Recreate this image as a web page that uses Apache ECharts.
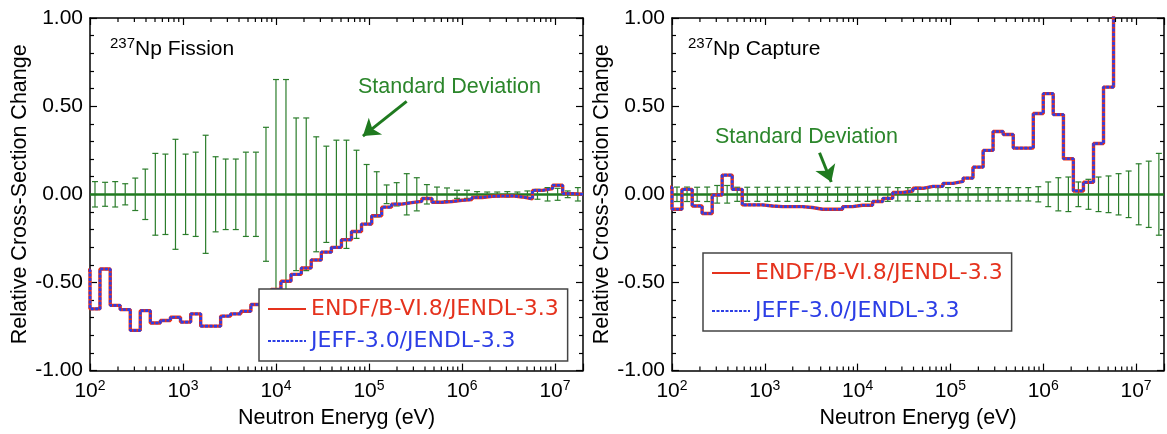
<!DOCTYPE html>
<html><head><meta charset="utf-8">
<script src="https://cdn.jsdelivr.net/npm/echarts@6/dist/echarts.min.js"></script>
<style>html,body{margin:0;padding:0;background:#fff}#c{width:1167px;height:434px}</style>
</head><body><div id="c"></div>
<script>
// ---- data ----
// group boundaries in eV (first edge is a bin below the plotted range)
const binEdges = [78, 100, 128, 165, 211, 271, 347, 445, 571, 733, 940, 1210, 1550, 1980, 2540, 3260, 4190, 5370, 6890, 8840,
  11300, 14500, 18700, 23900, 30700, 39400, 50500, 64800, 83100, 107000, 137000, 175000, 225000, 288000, 370000, 475000,
  609000, 781000, 1000000, 1280000, 1650000, 2110000, 2710000, 3480000, 4460000, 5720000, 7340000, 9420000, 12100000,
  15500000, 20000000];

const fissionEndf = [-0.43, -0.65, -0.424, -0.63, -0.654, -0.772, -0.66, -0.73, -0.716, -0.697, -0.725, -0.678, -0.748, -0.748,
  -0.691, -0.678, -0.663, -0.625, -0.585, -0.54, -0.493, -0.454, -0.418, -0.373, -0.328, -0.301, -0.258, -0.211, -0.169,
  -0.122, -0.073, -0.056, -0.047, -0.04, -0.024, -0.045, -0.041, -0.034, -0.03, -0.018, -0.011, -0.01, -0.009, -0.015,
  -0.026, 0.022, 0.033, 0.051, 0.004, 0.0];
const fissionJeff = [-0.43, -0.65, -0.424, -0.63, -0.654, -0.772, -0.66, -0.73, -0.716, -0.697, -0.725, -0.678, -0.748, -0.748,
  -0.691, -0.678, -0.663, -0.625, -0.585, -0.54, -0.493, -0.454, -0.418, -0.373, -0.328, -0.301, -0.258, -0.211, -0.169,
  -0.122, -0.073, -0.056, -0.047, -0.04, -0.024, -0.045, -0.041, -0.034, -0.03, -0.018, -0.011, -0.01, -0.009, -0.015,
  -0.026, 0.022, 0.033, 0.051, 0.004, 0.0];
const fissionSd = [null, 0.072, 0.068, 0.072, 0.06, 0.092, 0.143, 0.232, 0.228, 0.312, 0.228, 0.239, 0.335, 0.213, 0.2, 0.2,
  0.239, 0.239, 0.38, 0.651, 0.651, 0.433, 0.433, 0.326, 0.273, 0.307, 0.307, 0.25, 0.169, 0.128, 0.053, 0.066, 0.117,
  0.094, 0.055, 0.041, 0.036, 0.023, 0.023, 0.015, 0.013, 0.013, 0.015, 0.013, 0.019, 0.028, 0.038, 0.034, 0.019, 0.038];

const captureEndf = [0.04, -0.085, 0.028, -0.066, -0.109, -0.004, 0.109, 0.028, -0.06, -0.06, -0.066, -0.07, -0.07, -0.07,
  -0.075, -0.085, -0.085, -0.085, -0.07, -0.062, -0.062, -0.041, -0.023, 0.01, 0.019, 0.034, 0.045, 0.045, 0.062, 0.073,
  0.092, 0.154, 0.249, 0.356, 0.339, 0.262, 0.262, 0.458, 0.571, 0.452, 0.202, 0.019, 0.068, 0.288, 0.608, 1.3, 1.3, 1.3, 1.3, 1.3];
const captureJeff = [0.04, -0.085, 0.028, -0.066, -0.109, -0.004, 0.109, 0.028, -0.06, -0.06, -0.066, -0.07, -0.07, -0.07,
  -0.075, -0.085, -0.085, -0.085, -0.07, -0.062, -0.062, -0.041, -0.023, 0.01, 0.019, 0.034, 0.045, 0.045, 0.062, 0.073,
  0.092, 0.154, 0.249, 0.356, 0.339, 0.262, 0.262, 0.458, 0.571, 0.452, 0.202, 0.019, 0.068, 0.288, 0.608, 1.3, 1.3, 1.3, 1.3, 1.3];
const captureSd = [null, 0.041, 0.041, 0.04, 0.041, 0.05, 0.05, 0.04, 0.04, 0.04, 0.04, 0.04, 0.04, 0.04, 0.04, 0.04, 0.04,
  0.04, 0.04, 0.04, 0.04, 0.04, 0.04, 0.038, 0.038, 0.04, 0.038, 0.038, 0.038, 0.038, 0.038, 0.038, 0.038, 0.038, 0.038,
  0.038, 0.038, 0.043, 0.07, 0.094, 0.098, 0.07, 0.085, 0.098, 0.104, 0.117, 0.132, 0.173, 0.188, 0.232];

const seriesNames = ['ENDF/B-VI.8/JENDL-3.3', 'JEFF-3.0/JENDL-3.3'];
const decades = [100, 1000, 10000, 100000, 1000000, 10000000];
const minorSteps = [2, 3, 4, 5, 6, 7, 8, 9];
const yTickValues = [-1, -0.5, 0, 0.5, 1];

// annotation arrows (data coordinates: [energy, change])
const arrowFission = [[2.54e5, 0.527], [8.6e4, 0.33]];
const arrowCapture = [[3886, 0.236], [5200, 0.07]];

// ---- styling ----
const RED = '#e5321d', BLUE = '#2c3ee6', GREEN = '#2b7d2b', GREEN0 = '#1f7a1f', GREENT = '#2b862b';
const FONT = 'Liberation Sans';

function stepData(vals) {
  const d = vals.map((v, i) => [binEdges[i], v]);
  d.push([binEdges[vals.length], vals[vals.length - 1]]);
  return d;
}
function errData(sd) {
  const d = [];
  sd.forEach((s, i) => { if (s != null) d.push([Math.sqrt(binEdges[i] * binEdges[i + 1]), s]); });
  return d;
}
const minorTicks = [];
decades.forEach(d => minorSteps.forEach(m => { if (d * m < 2e7) minorTicks.push([d * m, 0]); }));

function fmtPow(v) {
  const e = Math.round(Math.log10(v));
  if (Math.abs(Math.pow(10, e) - v) > 1e-6 * v) return '';
  return '{b|10}{s|' + e + '}';
}
const axisLineStyle = { color: '#000', width: 1.5 };
const tickStyle = { color: '#000', width: 1.2 };

function xAxisDef(g, pos) {
  return {
    type: 'log', logBase: 10, gridIndex: g, min: 100, max: 2e7, position: pos,
    axisLine: { show: true, onZero: false, lineStyle: axisLineStyle },
    axisTick: { show: true, inside: true, length: 7, lineStyle: tickStyle },
    splitLine: { show: false },
    axisLabel: pos === 'bottom' ? {
      show: true, margin: 9, formatter: fmtPow,
      rich: {
        b: { fontFamily: FONT, fontSize: 21, lineHeight: 24, color: '#000' },
        s: { fontFamily: FONT, fontSize: 14, lineHeight: 14, verticalAlign: 'top', color: '#000' }
      }
    } : { show: false },
    name: pos === 'bottom' ? 'Neutron Eneryg (eV)' : '',
    nameLocation: 'middle', nameGap: 33,
    nameTextStyle: { fontFamily: FONT, fontSize: 21.5, color: '#000' }
  };
}
function yAxisDef(g, pos) {
  return {
    type: 'value', gridIndex: g, min: -1, max: 1, interval: 0.5, position: pos,
    axisLine: { show: true, onZero: false, lineStyle: axisLineStyle },
    axisTick: { show: true, inside: true, length: 7, lineStyle: tickStyle },
    minorTick: { show: true, splitNumber: 5, length: 4, lineStyle: tickStyle },
    splitLine: { show: false }, minorSplitLine: { show: false },
    axisLabel: pos === 'left' ? {
      show: true, margin: 7, fontFamily: FONT, fontSize: 21, color: '#000',
      formatter: v => (yTickValues.indexOf(v) >= 0 ? v.toFixed(2) : '')
    } : { show: false },
    name: pos === 'left' ? 'Relative Cross-Section Change' : '',
    nameLocation: 'middle', nameGap: 57,
    nameTextStyle: { fontFamily: FONT, fontSize: 21.5, color: '#000' }
  };
}

function renderErr(params, api) {
  const x = api.value(0), s = api.value(1);
  const t = api.coord([x, s]), b = api.coord([x, -s]);
  const cw = 3;
  const st = { stroke: GREEN, lineWidth: 1.2 };
  return { type: 'group', children: [
    { type: 'line', shape: { x1: t[0], y1: t[1], x2: b[0], y2: b[1] }, style: st },
    { type: 'line', shape: { x1: t[0] - cw, y1: t[1], x2: t[0] + cw, y2: t[1] }, style: st },
    { type: 'line', shape: { x1: b[0] - cw, y1: b[1], x2: b[0] + cw, y2: b[1] }, style: st }
  ]};
}
function renderMinor(params, api) {
  const v = api.value(0);
  const bot = api.coord([v, -1]), top = api.coord([v, 1]);
  const st = { stroke: '#000', lineWidth: 1.2 };
  return { type: 'group', children: [
    { type: 'line', shape: { x1: bot[0], y1: bot[1], x2: bot[0], y2: bot[1] - 4 }, style: st },
    { type: 'line', shape: { x1: top[0], y1: top[1], x2: top[0], y2: top[1] + 4 }, style: st }
  ]};
}

function panelSeries(g, endf, jeff, sd, arrow) {
  const xi = g * 2, yi = g * 2;
  return [
    {
      type: 'custom', xAxisIndex: xi, yAxisIndex: yi, data: errData(sd), renderItem: renderErr, z: 2, silent: true,
      markLine: {
        silent: true, symbol: ['none', 'none'], label: { show: false }, animation: false, z: 2,
        lineStyle: { color: GREEN0, width: 2.5, type: 'solid' },
        data: [{ yAxis: 0 }]
      }
    },
    {
      type: 'custom', xAxisIndex: xi, yAxisIndex: yi, data: minorTicks, renderItem: renderMinor, z: 5, silent: true, clip: false,
      markLine: {
        silent: true, symbol: ['none', 'arrow'], symbolSize: 16, label: { show: false }, animation: false,
        lineStyle: { color: GREEN0, width: 3, type: 'solid' },
        itemStyle: { color: GREEN0 },
        data: [[{ coord: arrow[0], symbol: 'none' }, { coord: arrow[1], symbol: 'arrow', symbolSize: 16 }]]
      }
    },
    {
      name: seriesNames[0], type: 'line', xAxisIndex: xi, yAxisIndex: yi, step: 'end', data: stepData(endf),
      symbol: 'none', showSymbol: false, lineStyle: { color: RED, width: 3.4 }, itemStyle: { color: RED }, z: 3, silent: true
    },
    {
      name: seriesNames[1], type: 'line', xAxisIndex: xi, yAxisIndex: yi, step: 'end', data: stepData(jeff),
      symbol: 'none', showSymbol: false, lineStyle: { color: BLUE, width: 2.6, type: [3, 1.5] }, itemStyle: { color: BLUE }, z: 4, silent: true
    }
  ];
}

function legendDef(left, top, gap) {
  return {
    left: left, top: top, orient: 'vertical', itemGap: gap, itemWidth: 38, itemHeight: 14,
    padding: [9, 9, 9, 8], backgroundColor: '#fff', borderColor: '#444', borderWidth: 1.5,
    selectedMode: false, z: 10,
    itemStyle: { opacity: 0 },
    lineStyle: { width: 2 },
    textStyle: { fontFamily: 'DejaVu Sans', fontSize: 22, lineHeight: 22 },
    data: [
      { name: seriesNames[0], textStyle: { color: RED } },
      { name: seriesNames[1], textStyle: { color: BLUE } }
    ]
  };
}

const titleRich = {
  s: { fontFamily: FONT, fontSize: 15, lineHeight: 15, verticalAlign: 'top', fill: '#000' },
  b: { fontFamily: FONT, fontSize: 21, lineHeight: 26, fill: '#000' }
};

const option = {
  animation: false,
  backgroundColor: '#fff',
  textStyle: { fontFamily: FONT },
  grid: [
    { left: 90, top: 18, width: 493, height: 354 },
    { left: 672, top: 18, width: 494, height: 354 }
  ],
  xAxis: [xAxisDef(0, 'bottom'), xAxisDef(0, 'top'), xAxisDef(1, 'bottom'), xAxisDef(1, 'top')],
  yAxis: [yAxisDef(0, 'left'), yAxisDef(0, 'right'), yAxisDef(1, 'left'), yAxisDef(1, 'right')],
  legend: [legendDef(259, 289, 10), legendDef(703, 253, 16)],
  series: [].concat(
    panelSeries(0, fissionEndf, fissionJeff, fissionSd, arrowFission),
    panelSeries(1, captureEndf, captureJeff, captureSd, arrowCapture)
  ),
  graphic: [
    { type: 'text', x: 110, y: 36, z: 20, style: { text: '{s|237}{b|Np Fission}', rich: titleRich, verticalAlign: 'top' } },
    { type: 'text', x: 688, y: 36, z: 20, style: { text: '{s|237}{b|Np Capture}', rich: titleRich, verticalAlign: 'top' } },
    { type: 'text', x: 358, y: 87.5, z: 20, style: { text: 'Standard Deviation', fill: GREENT, fontFamily: FONT, fontSize: 21.5, verticalAlign: 'middle' } },
    { type: 'text', x: 715, y: 137, z: 20, style: { text: 'Standard Deviation', fill: GREENT, fontFamily: FONT, fontSize: 21.5, verticalAlign: 'middle' } }
  ]
};

const chart = echarts.init(document.getElementById('c'));
chart.setOption(option);
</script>
</body></html>
